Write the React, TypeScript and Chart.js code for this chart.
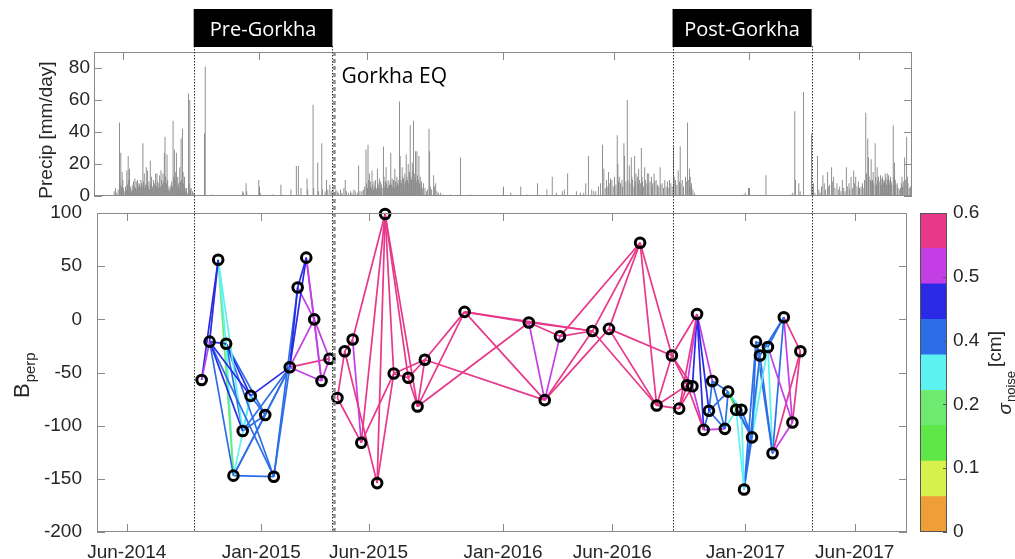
import React, { useEffect, useRef } from "react";
import { Chart, registerables } from "chart.js";

Chart.register(...registerables);

// ---------------- data ----------------
// x positions are days relative to 1 Jan 2015
const xTickDays = [-203, 0, 162, 365, 530, 731, 896];
const xTickLabels = ["Jun-2014", "Jan-2015", "Jun-2015", "Jan-2016", "Jun-2016", "Jan-2017", "Jun-2017"];
const precipTicks = [0, 20, 40, 60, 80];
const bperpTicks = [-200, -150, -100, -50, 0, 50, 100];

const periodLabels = ["Pre-Gorkha", "Post-Gorkha"];
const periodStart = [-102, 621];
const periodEnd = [107.5, 831];
const eqDay = 110.5;
const eqLabel = "Gorkha EQ";

// daily precipitation [day, mm/day]
const precipMonsoon2014: [number, number][] = [
  [-216, 3], [-214, 5], [-212, 2], [-210, 4], [-208, 46], [-207, 8], [-206, 27], [-205, 6], [-204, 15], [-203, 10],
  [-202, 4], [-201, 3], [-199, 6], [-198, 4], [-197, 16], [-196, 7], [-195, 25], [-194, 10], [-193, 17], [-192, 5],
  [-191, 6], [-190, 3], [-189, 4], [-188, 7], [-187, 9], [-186, 6], [-185, 11], [-184, 5], [-183, 9], [-182, 4],
  [-181, 10], [-180, 6], [-179, 8], [-178, 7], [-177, 5], [-176, 10], [-175, 8], [-174, 6], [-173, 33], [-172, 9],
  [-171, 14], [-170, 5], [-169, 7], [-168, 18], [-167, 8], [-166, 16], [-165, 6], [-164, 9], [-163, 4], [-162, 22],
  [-161, 8], [-160, 12], [-159, 6], [-158, 5], [-157, 10], [-156, 8], [-155, 7], [-154, 14], [-153, 6], [-152, 14],
  [-151, 9], [-150, 5], [-149, 8], [-148, 13], [-147, 6], [-146, 16], [-145, 10], [-144, 7], [-143, 14], [-142, 9],
  [-141, 27], [-140, 37], [-139, 12], [-138, 8], [-137, 26], [-136, 10], [-135, 4], [-134, 6], [-133, 3], [-132, 5],
  [-131, 7], [-130, 9], [-129, 6], [-128, 47], [-127, 12], [-126, 29], [-125, 10], [-124, 15], [-123, 27], [-122, 6],
  [-121, 12], [-120, 8], [-119, 5], [-118, 18], [-117, 9], [-116, 36], [-115, 10], [-114, 42], [-113, 15], [-112, 8],
  [-111, 12], [-110, 5], [-109, 3], [-108, 5], [-107, 2], [-105, 64], [-104, 8], [-103, 60], [-102, 4], [-101, 5],
  [-99, 3], [-97, 2],
];
const precipDry2015: [number, number][] = [
  [-81, 39], [-80, 81], [-69, 1], [-24, 3], [-23, 2], [-19, 8], [-18, 3], [0, 10], [1, 6], [2, 2], [21, 1], [33, 7],
  [48, 4], [56, 18.7], [59, 18.7], [63, 5], [72, 11], [73, 4], [81, 57], [82, 5], [88, 21], [89, 3], [94, 33], [95, 4],
  [99, 3], [101, 10], [103, 4], [106, 7], [108, 3], [111, 5],
];
const precipMonsoon2015: [number, number][] = [
  [113, 2], [115, 4], [117, 3], [119, 2], [122, 4], [124, 2], [127, 5], [129, 10], [131, 3], [134, 2], [137, 3], [139, 2],
  [142, 4], [144, 3], [147, 2], [149, 19], [151, 3], [154, 3], [156, 4], [158, 6], [160, 29], [161, 8], [163, 32], [164, 10],
  [165, 14], [166, 6], [167, 9], [168, 5], [169, 16], [170, 7], [171, 4], [172, 9], [173, 6], [174, 10], [175, 5], [176, 4],
  [177, 17], [178, 8], [179, 6], [180, 11], [181, 4], [182, 9], [183, 7], [184, 5], [186, 31], [187, 12], [188, 6], [189, 9],
  [190, 18], [191, 8], [192, 5], [193, 10], [194, 6], [195, 7], [196, 9], [197, 27], [198, 7], [199, 11], [200, 6], [201, 10],
  [202, 5], [203, 17], [204, 9], [205, 6], [206, 12], [207, 8], [208, 10], [209, 7], [210, 59], [211, 25], [212, 10], [213, 8],
  [214, 18], [215, 12], [216, 11], [217, 7], [218, 14], [219, 9], [220, 26], [221, 12], [222, 10], [223, 20], [224, 8], [225, 15],
  [226, 44], [227, 12], [228, 10], [229, 21], [230, 16], [231, 47], [232, 14], [233, 11], [234, 28], [235, 9], [236, 28], [237, 13],
  [238, 10], [239, 25], [240, 8], [241, 12], [242, 6], [243, 9], [244, 5], [246, 8], [248, 5], [250, 3], [252, 4], [254, 42],
  [255, 28], [256, 6], [258, 4], [261, 13], [262, 6], [264, 8], [266, 3], [268, 2], [271, 2], [275, 1], [286, 1], [301, 24],
  [316, 1], [365, 6],
];
const precipMonsoon2016: [number, number][] = [
  [376, 2], [391, 6], [400, 1], [416, 8], [430, 4], [438, 12], [444, 2], [453, 3], [456, 4], [461, 14], [474, 3], [480, 2],
  [485, 2], [488, 8], [492, 25], [497, 4], [500, 3], [503, 3], [507, 6], [510, 8], [513, 32], [515, 17], [517, 5], [519, 10],
  [521, 6], [522, 15], [524, 8], [525, 11], [527, 10], [529, 6], [531, 12], [533, 7], [535, 38], [536, 20], [537, 9], [538, 12],
  [540, 8], [542, 10], [543, 6], [545, 33], [546, 25], [548, 9], [550, 60], [551, 10], [553, 19], [554, 8], [556, 24], [557, 12],
  [558, 10], [560, 6], [561, 25], [562, 9], [563, 14], [565, 12], [566, 7], [567, 17], [568, 10], [570, 8], [571, 30], [572, 12],
  [573, 9], [574, 6], [576, 18], [577, 10], [578, 8], [580, 14], [581, 7], [582, 14], [584, 9], [586, 12], [587, 6], [588, 8],
  [590, 14], [591, 9], [593, 10], [595, 7], [597, 6], [599, 18], [600, 7], [602, 8], [604, 5], [606, 10], [608, 6], [610, 9],
  [611, 5], [613, 10], [615, 8], [617, 6], [619, 31], [620, 12], [622, 10], [624, 7], [626, 16], [628, 9], [629, 31], [630, 8],
  [632, 10], [634, 6], [637, 12], [638, 9], [640, 46], [641, 10], [643, 17], [644, 12], [645, 6], [646, 8], [648, 4], [650, 2],
];
const precipDry2017: [number, number][] = [
  [724, 1], [726, 2], [731, 5], [732, 3], [757, 13], [794, 1], [797, 2], [800, 53], [801, 10], [806, 8], [808, 3], [813, 65],
  [825, 39], [826, 6],
];
const precipMonsoon2017: [number, number][] = [
  [828, 8], [830, 2], [834, 25], [836, 4], [838, 2], [840, 6], [842, 13], [844, 8], [846, 4], [849, 15], [850, 6], [852, 7],
  [855, 18], [856, 9], [858, 12], [860, 5], [863, 8], [865, 4], [867, 6], [869, 3], [871, 10], [873, 5], [875, 3], [877, 18],
  [879, 6], [881, 8], [882, 4], [884, 12], [886, 5], [888, 16], [889, 8], [891, 12], [893, 6], [895, 9], [897, 4], [899, 6],
  [901, 8], [902, 5], [904, 10], [906, 52], [907, 14], [909, 36], [910, 24], [911, 12], [913, 10], [914, 23], [915, 9], [916, 10],
  [917, 15], [918, 8], [920, 33], [921, 12], [922, 7], [923, 18], [924, 10], [925, 12], [926, 9], [928, 13], [929, 7], [930, 11],
  [931, 12], [932, 8], [933, 10], [934, 9], [935, 14], [936, 11], [937, 7], [938, 14], [939, 10], [940, 13], [941, 8], [942, 10],
  [943, 12], [944, 9], [945, 7], [947, 44], [948, 12], [949, 21], [950, 10], [951, 7], [953, 8], [954, 5], [956, 4], [958, 5],
  [959, 8], [960, 12], [961, 6], [962, 9], [964, 24], [965, 10], [967, 37], [968, 12], [969, 8], [971, 5], [973, 6], [974, 9],
];

// SAR acquisitions: day and perpendicular baseline [m]
const nodeDays = [
  -90, -78, -65, -53, -42, -28, -16, 6, 19, 43, 55, 68, 80, 91, 103,
  115, 126, 138, 151, 175, 187, 200, 222, 236, 247, 307, 404, 428, 451, 500,
  525, 572, 597, 620, 631, 643, 651, 658, 668, 676, 681, 700, 705, 717, 725,
  729, 741, 747, 753, 765, 772, 789, 802, 814,
];
const nodeBperp = [
  -57, -21, 56, -23, -147, -105, -72, -90, -148, -45, 30, 58, 0, -58, -37,
  -74, -30, -19, -116, -154, 99, -51, -55, -82, -38, 7, -3, -76, -16, -11,
  -9, 72, -81, -34, -84, -62, -63, 5, -104, -86, -58, -103, -68, -85, -85,
  -160, -111, -21, -34, -26, -126, 2, -97, -30,
];

// interferogram pairs: [from node, to node, sigma_noise cm]
const preEdges: [number, number, number][] = [
  [0, 1, 0.5], [0, 2, 0.43], [1, 2, 0.43], [1, 3, 0.43], [1, 4, 0.37], [1, 5, 0.43], [1, 6, 0.43], [1, 8, 0.37],
  [2, 3, 0.3], [2, 4, 0.23], [2, 5, 0.3], [3, 4, 0.3], [3, 5, 0.37], [3, 6, 0.43], [3, 7, 0.37], [3, 8, 0.37],
  [4, 6, 0.3], [4, 7, 0.37], [4, 8, 0.37], [4, 9, 0.37], [5, 6, 0.3], [5, 7, 0.37], [5, 9, 0.37], [6, 7, 0.37],
  [6, 9, 0.43], [7, 9, 0.37], [8, 9, 0.37], [9, 10, 0.43], [9, 11, 0.43], [8, 10, 0.37], [10, 11, 0.43], [10, 12, 0.5],
  [11, 12, 0.5], [11, 13, 0.5], [12, 13, 0.5], [9, 12, 0.5], [9, 13, 0.5], [9, 14, 0.57], [12, 14, 0.5], [13, 14, 0.5],
];
const interEdges: [number, number, number][] = [
  [15, 16, 0.57], [15, 18, 0.57], [16, 17, 0.57], [16, 19, 0.57], [17, 18, 0.5], [17, 20, 0.57], [18, 20, 0.57],
  [19, 20, 0.57], [18, 21, 0.57], [19, 21, 0.57], [20, 21, 0.57], [20, 22, 0.57], [20, 23, 0.57], [21, 22, 0.57],
  [21, 24, 0.57], [22, 23, 0.57], [22, 24, 0.57], [23, 24, 0.57], [23, 25, 0.57], [24, 25, 0.57], [23, 26, 0.57],
  [24, 27, 0.57], [25, 26, 0.57], [25, 27, 0.57], [25, 29, 0.57], [26, 27, 0.5], [26, 28, 0.57], [27, 28, 0.5],
  [26, 29, 0.57], [27, 29, 0.57], [27, 30, 0.57], [28, 29, 0.57], [28, 31, 0.57], [29, 31, 0.57], [30, 31, 0.57],
  [29, 32, 0.57], [30, 32, 0.57], [30, 33, 0.57], [31, 32, 0.57], [31, 33, 0.57], [32, 33, 0.57], [32, 34, 0.57],
  [32, 35, 0.57],
];
const postEdges: [number, number, number][] = [
  [33, 35, 0.57], [33, 36, 0.57], [34, 35, 0.57], [34, 36, 0.57], [34, 37, 0.57], [33, 37, 0.57], [35, 37, 0.5],
  [36, 37, 0.43], [35, 38, 0.57], [36, 38, 0.5], [37, 38, 0.43], [37, 39, 0.43], [37, 40, 0.5], [38, 39, 0.37],
  [38, 41, 0.5], [39, 40, 0.37], [39, 41, 0.37], [39, 42, 0.37], [40, 41, 0.37], [40, 42, 0.37], [41, 42, 0.37],
  [42, 43, 0.17], [41, 43, 0.3], [42, 44, 0.3], [42, 46, 0.37], [43, 45, 0.3], [44, 45, 0.3], [43, 46, 0.37],
  [44, 46, 0.37], [45, 46, 0.37], [45, 47, 0.37], [45, 48, 0.37], [46, 47, 0.37], [46, 48, 0.3], [46, 49, 0.3],
  [47, 48, 0.37], [47, 49, 0.37], [47, 50, 0.37], [48, 50, 0.37], [48, 51, 0.37], [49, 51, 0.37], [49, 50, 0.3],
  [49, 52, 0.5], [50, 51, 0.37], [50, 52, 0.5], [50, 53, 0.57], [51, 52, 0.5], [51, 53, 0.57], [52, 53, 0.57],
];

// colour bar (sigma_noise, 0 .. 0.6 cm), bands from bottom to top
const noiseMax = 0.6;
const noiseBandColors = [
  "#F09E38", "#D6F04C", "#5EE848", "#6EEA70", "#5CF2F2", "#2C6EE8", "#2A2AE6", "#C43EE6", "#E8388A",
];
const colorbarTickLabels = ["0", "0.1", "0.2", "0.4", "0.5", "0.6"];

// ---------------- styling / layout ----------------
const W = 1015;
const H = 559;
const FONT = "'Liberation Sans', Arial, Helvetica, sans-serif";
const BOX_FONT = "'Open Sans', 'Noto Sans', sans-serif";
const TEXT_COLOR = "#262626";
const AXIS_COLOR = "#8a8a8a";
const TICK_LEN = 8;

function noiseColor(n: number) {
  const band = Math.min(noiseBandColors.length - 1, Math.floor(n / (noiseMax / noiseBandColors.length)));
  return noiseBandColors[Math.max(0, band)];
}

function drawFrame(chart: any, xVals: number[], yVals: number[]) {
  const { ctx, chartArea: a, scales } = chart;
  ctx.save();
  ctx.strokeStyle = AXIS_COLOR;
  ctx.lineWidth = 1;
  ctx.setLineDash([]);
  ctx.strokeRect(a.left + 0.5, a.top + 0.5, a.right - a.left - 1, a.bottom - a.top - 1);
  ctx.beginPath();
  xVals.forEach((v) => {
    const px = Math.round(scales.x.getPixelForValue(v)) + 0.5;
    ctx.moveTo(px, a.bottom);
    ctx.lineTo(px, a.bottom - TICK_LEN);
    ctx.moveTo(px, a.top);
    ctx.lineTo(px, a.top + TICK_LEN);
  });
  yVals.forEach((v) => {
    const py = Math.round(scales.y.getPixelForValue(v)) + 0.5;
    ctx.moveTo(a.left, py);
    ctx.lineTo(a.left + TICK_LEN, py);
    ctx.moveTo(a.right, py);
    ctx.lineTo(a.right - TICK_LEN, py);
  });
  ctx.stroke();
  ctx.restore();
}

const tickFont = { family: FONT, size: 19 };

function makePrecip(canvas: HTMLCanvasElement) {
  const all = [
    ...precipMonsoon2014, ...precipDry2015, ...precipMonsoon2015,
    ...precipMonsoon2016, ...precipDry2017, ...precipMonsoon2017,
  ];
  const plugin = {
    id: "precipFrame",
    afterDraw(chart: any) {
      drawFrame(chart, xTickDays, precipTicks);
      const { ctx, chartArea: a } = chart;
      ctx.save();
      ctx.translate(52, (a.top + a.bottom) / 2 + 6);
      ctx.rotate(-Math.PI / 2);
      ctx.font = `19px ${FONT}`;
      ctx.fillStyle = TEXT_COLOR;
      ctx.textAlign = "center";
      ctx.textBaseline = "alphabetic";
      ctx.fillText("Precip [mm/day]", 0, 0);
      ctx.restore();
    },
  };
  return new Chart(canvas, {
    type: "bar",
    data: {
      datasets: [
        {
          data: all.map(([d, v]) => ({ x: d, y: v })),
          backgroundColor: "#858585",
          borderWidth: 0,
          barThickness: 0.9,
          inflateAmount: 0,
        } as any,
      ],
    },
    options: {
      responsive: false,
      animation: false,
      events: [],
      layout: { padding: { left: 0, top: 52, right: W - 912, bottom: H - 196 } },
      plugins: { legend: { display: false }, tooltip: { enabled: false } },
      scales: {
        x: { type: "linear", min: -246, max: 975, offset: false, display: false } as any,
        y: {
          min: 0,
          max: 90,
          afterFit: (s: any) => { s.width = 94; },
          afterBuildTicks: (s: any) => { s.ticks = precipTicks.map((v) => ({ value: v })); },
          grid: { display: false, drawTicks: false },
          border: { display: false },
          ticks: { font: tickFont, color: TEXT_COLOR, padding: 4 },
        } as any,
      },
    },
    plugins: [plugin],
  } as any);
}

function makeNetwork(canvas: HTMLCanvasElement) {
  const edges = [...preEdges, ...interEdges, ...postEdges];
  const edgeSets = edges.map(([a, b, n]) => ({
    data: [
      { x: nodeDays[a], y: nodeBperp[a] },
      { x: nodeDays[b], y: nodeBperp[b] },
    ],
    showLine: true,
    borderColor: noiseColor(n),
    borderWidth: 1.7,
    pointRadius: 0,
    fill: false,
    order: 2,
  }));
  const nodeSet = {
    data: nodeDays.map((d, i) => ({ x: d, y: nodeBperp[i] })),
    showLine: false,
    pointRadius: 4.8,
    pointBorderWidth: 3,
    pointBorderColor: "#000",
    pointBackgroundColor: "rgba(255,255,255,0)",
    order: 1,
    clip: false,
  };
  const plugin = {
    id: "networkDecor",
    afterDraw(chart: any) {
      drawFrame(chart, xTickDays, bperpTicks);
      const { ctx, chartArea: a, scales } = chart;
      const xs = scales.x;
      ctx.save();
      // period boundaries (dotted)
      ctx.strokeStyle = "#333";
      ctx.lineWidth = 1;
      ctx.setLineDash([1.5, 1.5]);
      ctx.beginPath();
      [...periodStart, ...periodEnd].forEach((d) => {
        const px = Math.round(xs.getPixelForValue(d)) + 0.5;
        ctx.moveTo(px, 46);
        ctx.lineTo(px, a.bottom);
      });
      ctx.stroke();
      // earthquake line (thick dashed)
      const eqx = xs.getPixelForValue(eqDay);
      ctx.strokeStyle = "#8a8a8a";
      ctx.lineWidth = 2.5;
      ctx.setLineDash([4, 3]);
      ctx.beginPath();
      ctx.moveTo(eqx, 52);
      ctx.lineTo(eqx, a.bottom);
      ctx.stroke();
      ctx.setLineDash([]);
      // period boxes
      ctx.font = `500 20px ${BOX_FONT}`;
      ctx.textAlign = "center";
      ctx.textBaseline = "alphabetic";
      periodLabels.forEach((lab, i) => {
        const x0 = xs.getPixelForValue(periodStart[i]);
        const x1 = xs.getPixelForValue(periodEnd[i]);
        ctx.fillStyle = "#000";
        ctx.fillRect(x0, 9, x1 - x0, 38);
        ctx.fillStyle = "#fff";
        ctx.fillText(lab, (x0 + x1) / 2, 36);
      });
      // EQ label
      ctx.fillStyle = "#000";
      ctx.textAlign = "left";
      ctx.font = `21px ${BOX_FONT}`;
      ctx.fillText(eqLabel, eqx + 7, 83);
      // B_perp label
      ctx.save();
      ctx.translate(29, 398);
      ctx.rotate(-Math.PI / 2);
      ctx.fillStyle = TEXT_COLOR;
      ctx.textAlign = "left";
      ctx.font = `22px ${FONT}`;
      ctx.fillText("B", 0, 0);
      const bw = ctx.measureText("B").width;
      ctx.font = `15px ${FONT}`;
      ctx.fillText("perp", bw + 1, 6);
      ctx.restore();
      ctx.restore();
    },
  };
  return new Chart(canvas, {
    type: "scatter",
    data: { datasets: [nodeSet, ...edgeSets] as any },
    options: {
      responsive: false,
      animation: false,
      events: [],
      layout: { padding: { left: 0, top: 213, right: W - 907, bottom: 0 } },
      plugins: { legend: { display: false }, tooltip: { enabled: false } },
      scales: {
        x: {
          type: "linear",
          min: -248,
          max: 975,
          afterFit: (s: any) => { s.height = H - 532; },
          afterBuildTicks: (s: any) => { s.ticks = xTickDays.map((v) => ({ value: v })); },
          grid: { display: false, drawTicks: false },
          border: { display: false },
          ticks: {
            font: tickFont,
            color: TEXT_COLOR,
            padding: 9,
            autoSkip: false,
            maxRotation: 0,
            callback: (v: any) => {
              const i = xTickDays.indexOf(Number(v));
              return i >= 0 ? xTickLabels[i] : "";
            },
          },
        } as any,
        y: {
          min: -200,
          max: 100,
          afterFit: (s: any) => { s.width = 97; },
          afterBuildTicks: (s: any) => { s.ticks = bperpTicks.map((v) => ({ value: v })); },
          grid: { display: false, drawTicks: false },
          border: { display: false },
          ticks: { font: tickFont, color: TEXT_COLOR, padding: 15 },
        } as any,
      },
    },
    plugins: [plugin],
  } as any);
}

function makeColorbar(canvas: HTMLCanvasElement) {
  const bandSize = noiseMax / noiseBandColors.length;
  const tickVals = colorbarTickLabels.map((_, i) => (i * noiseMax) / (colorbarTickLabels.length - 1));
  const plugin = {
    id: "cbDecor",
    afterDraw(chart: any) {
      const { ctx, chartArea: a, scales } = chart;
      ctx.save();
      ctx.strokeStyle = "#555";
      ctx.lineWidth = 1;
      ctx.strokeRect(a.left + 0.5, a.top + 0.5, a.right - a.left - 1, a.bottom - a.top - 1);
      ctx.beginPath();
      tickVals.forEach((v) => {
        const py = Math.round(scales.y.getPixelForValue(v)) + 0.5;
        ctx.moveTo(a.right, py);
        ctx.lineTo(a.right - 4, py);
      });
      ctx.stroke();
      // sigma_noise [cm]
      ctx.translate(1011, (a.top + a.bottom) / 2 + 42);
      ctx.rotate(-Math.PI / 2);
      ctx.fillStyle = TEXT_COLOR;
      ctx.textAlign = "left";
      ctx.textBaseline = "alphabetic";
      ctx.font = `italic 19px ${FONT}`;
      ctx.fillText("σ", 0, 0);
      let x = ctx.measureText("σ").width + 1;
      ctx.font = `13px ${FONT}`;
      ctx.fillText("noise", x, 4);
      x += ctx.measureText("noise").width + 4;
      ctx.font = `19px ${FONT}`;
      ctx.fillText("[cm]", x, -10);
      ctx.restore();
    },
  };
  return new Chart(canvas, {
    type: "bar",
    data: {
      labels: ["noise"],
      datasets: noiseBandColors.map((c) => ({
        data: [bandSize],
        backgroundColor: c,
        borderWidth: 0,
        barPercentage: 1,
        categoryPercentage: 1,
      })),
    },
    options: {
      responsive: false,
      animation: false,
      events: [],
      layout: { padding: { left: 920, top: 213, right: 0, bottom: H - 532 } },
      plugins: { legend: { display: false }, tooltip: { enabled: false } },
      scales: {
        x: { stacked: true, display: false },
        y: {
          stacked: true,
          position: "right",
          min: 0,
          max: noiseMax,
          afterFit: (s: any) => { s.width = W - 947; },
          afterBuildTicks: (s: any) => { s.ticks = tickVals.map((v) => ({ value: v })); },
          grid: { display: false, drawTicks: false },
          border: { display: false },
          ticks: {
            font: tickFont,
            color: TEXT_COLOR,
            padding: 6,
            callback: (_v: any, i: number) => colorbarTickLabels[i],
          },
        } as any,
      },
    },
    plugins: [plugin],
  } as any);
}

export default function App() {
  const topRef = useRef<HTMLCanvasElement>(null);
  const botRef = useRef<HTMLCanvasElement>(null);
  const cbRef = useRef<HTMLCanvasElement>(null);
  useEffect(() => {
    const charts = [
      makePrecip(topRef.current as HTMLCanvasElement),
      makeNetwork(botRef.current as HTMLCanvasElement),
      makeColorbar(cbRef.current as HTMLCanvasElement),
    ];
    return () => charts.forEach((c) => c.destroy());
  }, []);
  const cs: React.CSSProperties = { position: "absolute", left: 0, top: 0, width: W, height: H };
  return (
    <div style={{ position: "fixed", left: 0, top: 0, width: W, height: H, background: "#fff", overflow: "hidden" }}>
      <canvas ref={topRef} width={W} height={H} style={cs} />
      <canvas ref={botRef} width={W} height={H} style={cs} />
      <canvas ref={cbRef} width={W} height={H} style={cs} />
    </div>
  );
}
